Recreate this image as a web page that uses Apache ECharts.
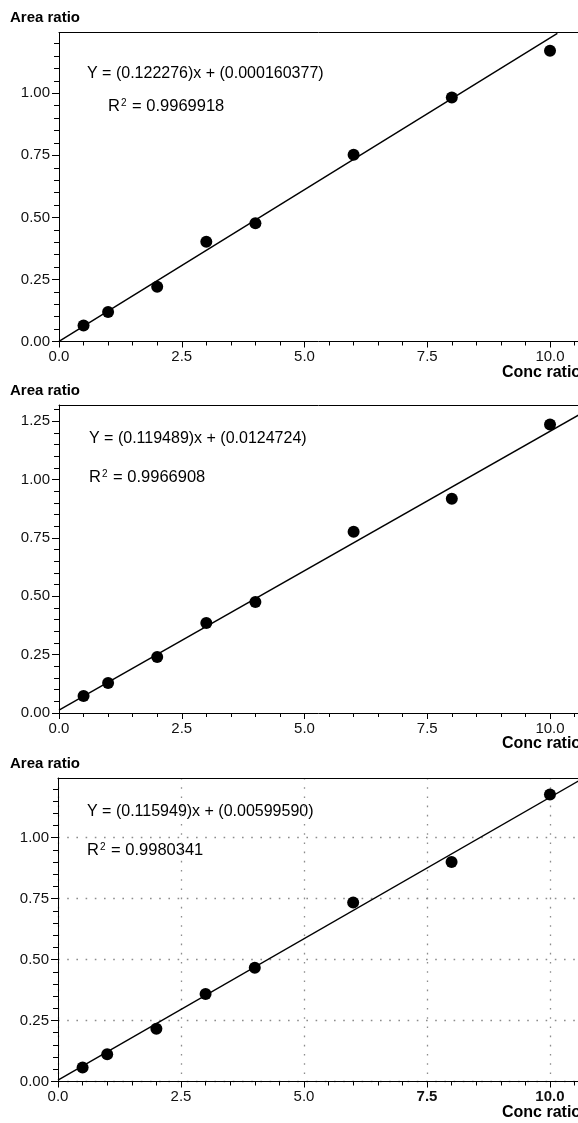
<!DOCTYPE html>
<html>
<head>
<meta charset="utf-8">
<script src="https://cdn.jsdelivr.net/npm/echarts@6/dist/echarts.min.js"></script>
<style>
  html, body { margin: 0; padding: 0; background: #fff; }
  #calib-chart { width: 578px; height: 1123px; }
</style>
</head>
<body>
<div id="calib-chart"></div>
<script>
// calibration levels (conc ratio)
var conc_ratio = [0.5, 1, 2, 3, 4, 6, 8, 10];

// measured area ratios, one array per panel
var area_ratio_1 = [0.064, 0.119, 0.221, 0.402, 0.476, 0.752, 0.983, 1.171];
var area_ratio_2 = [0.073, 0.129, 0.240, 0.386, 0.476, 0.777, 0.918, 1.236];
var area_ratio_3 = [0.057, 0.112, 0.216, 0.359, 0.467, 0.734, 0.900, 1.177];

// regression line end points, taken from the printed equations
var fit_line_1 = [[0, 0.00016], [10.15, 1.2413]];
var fit_line_2 = [[0, 0.0125], [10.6, 1.2791]];
var fit_line_3 = [[0, 0.0060], [10.6, 1.2351]];

// tick labels
var x_ticks = [0, 2.5, 5, 7.5, 10];
var y_ticks_1 = [0, 0.25, 0.5, 0.75, 1.0];
var y_ticks_2 = [0, 0.25, 0.5, 0.75, 1.0, 1.25];
var y_ticks_3 = [0, 0.25, 0.5, 0.75, 1.0];

var equation_texts = [
    'Y = (0.122276)x + (0.000160377)',
    'Y = (0.119489)x + (0.0124724)',
    'Y = (0.115949)x + (0.00599590)'
];
var r2_values = ['0.9969918', '0.9966908', '0.9980341'];

var y_max = [1.245, 1.32, 1.245];
var x_max = 10.57;

var font_family = '"Liberation Sans", Arial, Helvetica, sans-serif';

var calib_chart = echarts.init(document.getElementById('calib-chart'));

// grid placement for the three panels
var panels = [
    { left: 59, top: 32.5, height: 309 },
    { left: 59, top: 405, height: 308 },
    { left: 58, top: 778, height: 303.5 }
];

var grids = [], x_axes = [], y_axes = [], series = [], graphics = [];
var point_sets = [area_ratio_1, area_ratio_2, area_ratio_3];
var fit_sets = [fit_line_1, fit_line_2, fit_line_3];
var y_tick_sets = [y_ticks_1, y_ticks_2, y_ticks_3];

var text_pos = [
    { eq: [87, 75], r2: [108, 108] },
    { eq: [89, 440], r2: [89, 479] },
    { eq: [87, 813], r2: [87, 852] }
];

var dotted_style = { color: '#8c8c8c', type: [1.6, 7.6], width: 1.3 };

panels.forEach(function (p, i) {
    var dotted = (i === 2);
    grids.push({ left: p.left, top: p.top, height: p.height, right: 0 });

    x_axes.push({
        type: 'value',
        gridIndex: i,
        min: 0,
        max: x_max,
        interval: 2.5,
        axisLine: { show: true, onZero: false, lineStyle: { color: '#000', width: 1 } },
        axisTick: { show: true, inside: false, length: 6, customValues: x_ticks, lineStyle: { color: '#000' } },
        minorTick: { show: true, splitNumber: 5, length: 4, lineStyle: { color: '#000' } },
        axisLabel: {
            margin: 8,
            customValues: x_ticks,
            color: '#111',
            fontSize: 15,
            fontFamily: font_family,
            formatter: function (v) {
                var s = v.toFixed(1);
                if (dotted && (v === 7.5 || v === 10)) return '{b|' + s + '}';
                return s;
            },
            rich: { b: { fontWeight: 'bold', fontSize: 15, fontFamily: font_family, color: '#111' } }
        },
        splitLine: { show: dotted, lineStyle: dotted_style }
    });
    // top frame line
    x_axes.push({
        type: 'value',
        gridIndex: i,
        position: 'top',
        min: 0,
        max: x_max,
        axisLine: { show: true, onZero: false, lineStyle: { color: '#000', width: 1 } },
        axisTick: { show: false },
        axisLabel: { show: false },
        splitLine: { show: false }
    });

    y_axes.push({
        type: 'value',
        gridIndex: i,
        min: 0,
        max: y_max[i],
        interval: 0.25,
        axisLine: { show: true, onZero: false, lineStyle: { color: '#000', width: 1 } },
        axisTick: { show: true, inside: false, length: 7, customValues: y_tick_sets[i], lineStyle: { color: '#000' } },
        minorTick: { show: true, splitNumber: 5, length: 5, lineStyle: { color: '#000' } },
        axisLabel: {
            margin: 9,
            customValues: y_tick_sets[i],
            color: '#111',
            fontSize: 15,
            fontFamily: font_family,
            formatter: function (v) { return v.toFixed(2); }
        },
        splitLine: { show: dotted, lineStyle: dotted_style }
    });

    series.push({
        type: 'line',
        xAxisIndex: i * 2,
        yAxisIndex: i,
        data: fit_sets[i],
        showSymbol: false,
        clip: true,
        lineStyle: { color: '#000', width: 1.4 },
        silent: true,
        z: 2
    });
    series.push({
        type: 'scatter',
        xAxisIndex: i * 2,
        yAxisIndex: i,
        data: conc_ratio.map(function (c, k) { return [c, point_sets[i][k]]; }),
        symbol: 'circle',
        symbolSize: 12,
        itemStyle: { color: '#000', opacity: 1 },
        z: 3
    });

    graphics.push({
        type: 'text', left: 10, top: p.top - 22,
        style: { text: 'Area ratio', font: 'bold 15px ' + font_family, fill: '#000' }
    });
    graphics.push({
        type: 'text', left: 502, top: p.top + p.height + 23,
        style: { text: 'Conc ratio', font: 'bold 16px ' + font_family, fill: '#000' }
    });
    graphics.push({
        type: 'text', left: text_pos[i].eq[0], top: text_pos[i].eq[1] - 9,
        style: { text: equation_texts[i], font: '16px ' + font_family, fill: '#000' }
    });
    graphics.push({
        type: 'text', left: text_pos[i].r2[0], top: text_pos[i].r2[1] - 10,
        style: {
            text: 'R{sup|2} = ' + r2_values[i],
            font: '16.5px ' + font_family,
            fill: '#000',
            rich: {
                sup: { fontSize: 10, fontFamily: font_family, verticalAlign: 'top', padding: [0, 1, 6, 1], fill: '#000' }
            }
        }
    });
});

calib_chart.setOption({
    animation: false,
    backgroundColor: '#fff',
    grid: grids,
    xAxis: x_axes,
    yAxis: y_axes,
    series: series,
    graphic: graphics
});

window.addEventListener('resize', function () {
    calib_chart.resize();
});
</script>
</body>
</html>
